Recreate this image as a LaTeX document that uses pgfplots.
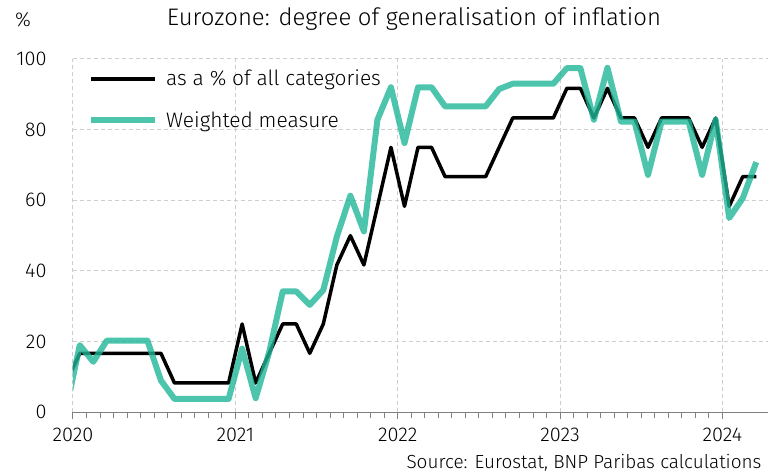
\documentclass[border=0pt]{standalone}
\usepackage{fontspec}
\setmainfont{Fira Sans}[UprightFont={* Light}]
\usepackage{pgfplots}
\pgfplotsset{compat=1.18}
\definecolor{bnpgreen}{RGB}{32,182,152}
\definecolor{gridgray}{RGB}{205,205,205}
\definecolor{axgray}{RGB}{128,128,128}
\begin{document}
\begin{tikzpicture}
\useasboundingbox (-73bp,-62.7bp) rectangle (696bp,412.3bp);
\begin{axis}[
 at={(0,0)}, anchor=south west,
 scale only axis, width=694.5bp, height=353.3bp,
 xmin=0, xmax=51.33, ymin=0, ymax=100,
 xtick={0,12,24,36,48}, xticklabels={2020,2021,2022,2023,2024},
 minor x tick num=11,
 ytick={0,20,...,100},
 axis x line*=bottom, axis y line*=left,
 y axis line style={draw=none},
 x axis line style={draw=axgray, line width=1.5bp, -},
 xtick style={draw=axgray, line width=1bp},
 ytick style={draw=none},
 tick align=outside,
 major tick length=7bp, minor tick length=6bp,
 grid=major,
 major grid style={gridgray, line width=1bp, dash pattern=on 4bp off 3bp},
 tick label style={font=\fontsize{20}{24}\selectfont, text=black},
 /pgf/number format/assume math mode=true,
 yticklabel shift=16bp,
 xticklabel style={yshift=-5bp},
 legend style={draw=none, fill=none, at={(0,1)}, anchor=north west, xshift=12bp, yshift=-7bp, font=\fontsize{21}{25}\selectfont, row sep=20bp, column sep=6bp},
 legend image code/.code={\draw[#1] (0bp,0bp) -- (64bp,0bp);},
 legend cell align=left,
]
\addplot[black, line width=3.5bp, line join=round] table {
x y
-0.5 8.3
0.5 16.7
1.5 16.7
2.5 16.7
3.5 16.7
4.5 16.7
5.5 16.7
6.5 16.7
7.5 8.3
8.5 8.3
9.5 8.3
10.5 8.3
11.5 8.3
12.5 25
13.5 8.3
14.5 16.7
15.5 25
16.5 25
17.5 16.7
18.5 25
19.5 41.7
20.5 50
21.5 41.7
22.5 58.3
23.5 75
24.5 58.3
25.5 75
26.5 75
27.5 66.7
28.5 66.7
29.5 66.7
30.5 66.7
31.5 75
32.5 83.3
33.5 83.3
34.5 83.3
35.5 83.3
36.5 91.7
37.5 91.7
38.5 83.3
39.5 91.7
40.5 83.3
41.5 83.3
42.5 75
43.5 83.3
44.5 83.3
45.5 83.3
46.5 75
47.5 83.3
48.5 58.3
49.5 66.7
50.5 66.7
};
\addlegendentry{as a \% of all categories}
\addplot[bnpgreen, draw opacity=0.8, line width=6bp, line join=round] table {
x y
-0.5 1
0.5 19
1.5 14.3
2.5 20.3
3.5 20.3
4.5 20.3
5.5 20.3
6.5 9
7.5 3.8
8.5 3.8
9.5 3.8
10.5 3.8
11.5 3.8
12.5 18
13.5 4
14.5 17
15.5 34.2
16.5 34.2
17.5 30.4
18.5 34.6
19.5 49.7
20.5 61.3
21.5 51.2
22.5 82.8
23.5 92
24.5 76.2
25.5 92
26.5 92
27.5 86.6
28.5 86.6
29.5 86.6
30.5 86.6
31.5 91.5
32.5 93
33.5 93
34.5 93
35.5 93
36.5 97.4
37.5 97.4
38.5 82.8
39.5 97.5
40.5 82.3
41.5 82.3
42.5 67.2
43.5 82.3
44.5 82.3
45.5 82.3
46.5 67.2
47.5 82.8
48.5 55
49.5 60.6
50.5 70.8
};
\addlegendentry{Weighted measure}
\end{axis}
\node[font=\fontsize{24}{29}\selectfont] at (341bp,393.3bp) {Eurozone: degree of generalisation of inflation};
\node[font=\fontsize{20}{24}\selectfont] at (-50bp,392.3bp) {\%};
\node[anchor=east, font=\fontsize{19}{22}\selectfont] at (692bp,-50.7bp) {Source: Eurostat, BNP Paribas calculations};
\end{tikzpicture}
\end{document}
